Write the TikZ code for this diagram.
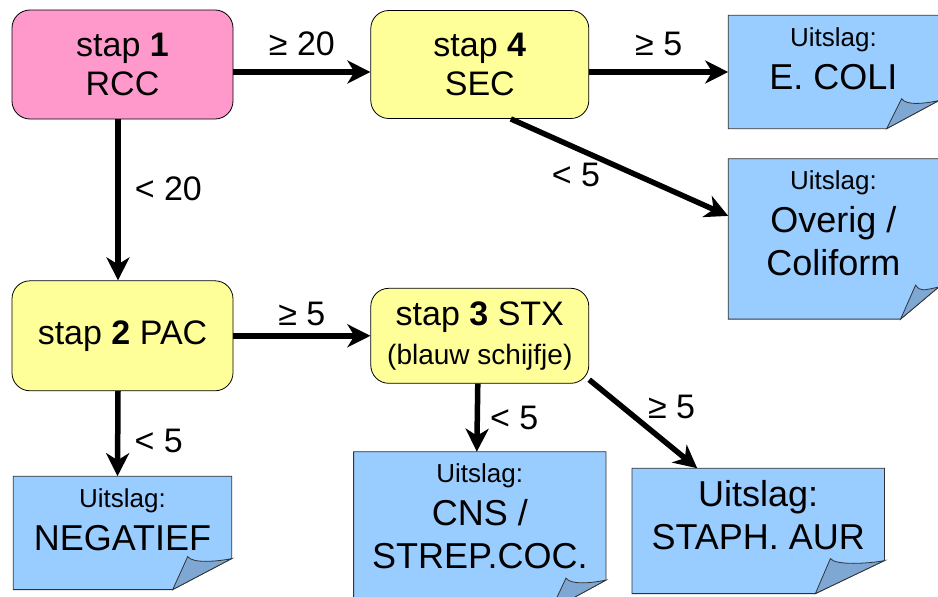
\documentclass[tikz,border=0pt]{standalone}
\usepackage{fontspec}
\setmainfont{Liberation Sans}
\usetikzlibrary{arrows.meta, positioning, backgrounds}

\definecolor{roze}{HTML}{FF99CC}
\definecolor{geel}{HTML}{FFFF99}
\definecolor{lichtblauw}{HTML}{99CCFF}
\definecolor{vouwblauw}{HTML}{7FA7D4}

\newcommand{\groot}{\fontsize{34}{39}\selectfont}
\newcommand{\notgroot}{\fontsize{36}{43}\selectfont}
\newcommand{\klein}{\fontsize{26}{30}\selectfont}
\newcommand{\notitietekst}[3]{\parbox[c][#1][t]{#2}{\centering\vspace*{12pt}#3\par}}
% briefje met omgevouwen hoek (node, dx, dy)
\newcommand{\ezelsoor}[3]{%
  \begin{scope}[on background layer]
    \filldraw[notitie] (#1.north west) -- (#1.north east) -- ([yshift=#3]#1.south east)
      -- ([xshift=-#2]#1.south east) -- (#1.south west) -- cycle;
    \filldraw[flap] ([xshift=-#2]#1.south east) -- ([xshift=-#2+15pt, yshift=#3+2pt]#1.south east)
      .. controls ([xshift=-#2+20pt, yshift=#3-5pt]#1.south east) and ([xshift=-15pt, yshift=#3-3pt]#1.south east)
      .. ([yshift=#3]#1.south east) -- cycle;
  \end{scope}}

\begin{document}
\begin{tikzpicture}[x=1pt, y=1pt, >={Stealth[length=23pt, width=23pt, inset=7pt]},
  stap/.style={draw, line width=0.8pt, rounded corners=18pt, fill=geel, align=center, inner sep=0pt, font=\groot},
  uitslag/.style={inner sep=0pt},
  notitie/.style={draw=black!80, line width=0.8pt, fill=lichtblauw},
  flap/.style={draw=black!80, line width=0.8pt, fill=vouwblauw},
  pijl/.style={->, line width=5.5pt},
  lbl/.style={inner sep=0pt, font=\groot}]
\useasboundingbox (0,0) rectangle (938,-597);

% Stappen
\node[stap, fill=roze, minimum width=221pt, minimum height=109pt] (stap1) at (122.5,-64.5) {stap \textbf{1}\\RCC};
\node[stap, minimum width=218pt, minimum height=108pt, right=137pt of stap1] (stap4) {stap \textbf{4}\\SEC};
\node[stap, minimum width=221pt, minimum height=110pt, below=161pt of stap1] (stap2) {stap \textbf{2} PAC};
\node[stap, minimum width=218pt, minimum height=95pt, right=137pt of stap2] (stap3) {stap \textbf{3} STX\\{\fontsize{28}{32}\selectfont (blauw schijfje)}};

% Uitslagen
\node[uitslag, right=139pt of stap4, yshift=-7.5pt] (ecoli) {\notitietekst{113pt}{210pt}{\klein Uitslag:\\\notgroot E. COLI}};
\node[uitslag, below=30pt of ecoli] (overig) {\notitietekst{160pt}{210pt}{\klein Uitslag:\\\notgroot Overig /\\Coliform}};
\node[uitslag, below=85pt of stap2] (neg) {\notitietekst{113pt}{218pt}{\klein Uitslag:\\\notgroot NEGATIEF}};
\node[uitslag, below=68pt of stap3] (cns) {\notitietekst{158pt}{252pt}{\klein Uitslag:\\\notgroot CNS /\\STREP.COC.}};
\node[uitslag, right=26pt of cns] (staph) {\notitietekst{125pt}{252pt}{\notgroot Uitslag:\\STAPH. AUR}};

\ezelsoor{ecoli}{52pt}{28pt}
\ezelsoor{overig}{38pt}{32pt}
\ezelsoor{neg}{59pt}{31pt}
\ezelsoor{cns}{55pt}{30pt}
\ezelsoor{staph}{69pt}{33pt}

% Pijlen
\draw[pijl] ([yshift=-7.5pt]stap1.east) -- node[lbl, above=13pt] (l1) {≥ 20} ([yshift=-7.5pt]stap4.west);
\draw[pijl] ([yshift=-7.5pt]stap4.east) -- node[lbl, above=13pt] (l2) {≥ 5} (ecoli.west);
\draw[pijl] ([xshift=31pt]stap4.south) -- node[lbl, pos=0.3, below=12pt] (l3) {< 5} ([yshift=23pt]overig.west);
\draw[pijl] ([xshift=-4.5pt]stap1.south) -- node[lbl, right=14pt, yshift=11pt] (l4) {< 20} ([xshift=-4.5pt]stap2.north);
\draw[pijl] (stap2.east) -- node[lbl, above=7pt] (l5) {≥ 5} (stap3.west);
\draw[pijl] ([xshift=-4.5pt]stap2.south) -- node[lbl, right=14pt, yshift=-7pt] (l6) {< 5} ([xshift=-5pt]neg.north);
\draw[pijl] ([xshift=-2pt]stap3.south) -- node[lbl, right=10pt] (l7) {< 5} ([xshift=-3pt]cns.north);
\draw[pijl] ([yshift=4pt]stap3.south east) -- node[lbl, above right=3pt] (l8) {≥ 5} ([xshift=-61pt]staph.north);
\end{tikzpicture}
\end{document}
